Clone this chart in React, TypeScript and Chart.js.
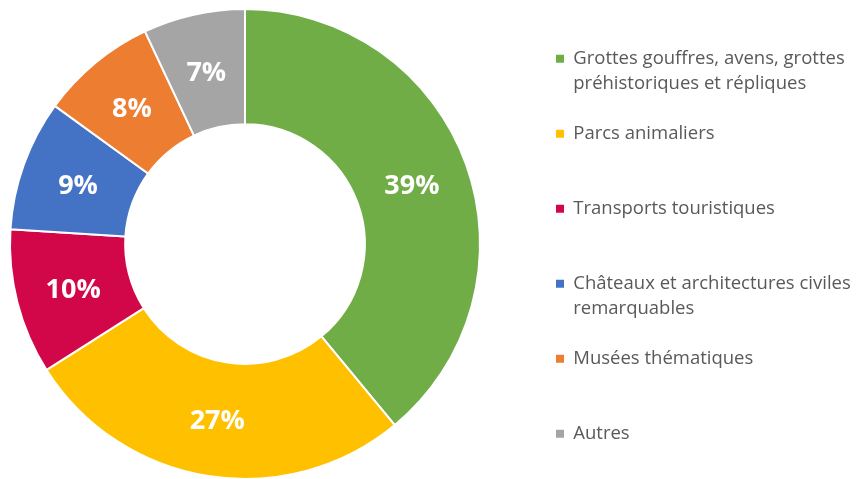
import React, { useEffect, useRef } from "react";
import { Chart, registerables } from "chart.js";

Chart.register(...registerables);

const CATEGORIES = [
  "Grottes gouffres, avens, grottes\npréhistoriques et répliques",
  "Parcs animaliers",
  "Transports touristiques",
  "Châteaux et architectures civiles\nremarquables",
  "Musées thématiques",
  "Autres",
];
const SHARES = [39, 27, 10, 9, 8, 7];
const COLORS = ["#70AD47", "#FFC000", "#D2074A", "#4472C4", "#ED7D31", "#A5A5A5"];

const PIE_AREA = { left: 9, top: 8, size: 472 };
const LEGEND_POS = { left: 531, top: 24.5 };
const LEGEND_LINES = 2;

const placementPlugin = {
  id: "placement",
  afterLayout(chart: any) {
    const a = chart.chartArea;
    a.left = PIE_AREA.left;
    a.top = PIE_AREA.top;
    a.right = PIE_AREA.left + PIE_AREA.size;
    a.bottom = PIE_AREA.top + PIE_AREA.size;
    a.width = PIE_AREA.size;
    a.height = PIE_AREA.size;
    const lg = chart.legend;
    if (lg) {
      const w = lg.right - lg.left;
      const h = lg.bottom - lg.top;
      lg.left = LEGEND_POS.left;
      lg.right = LEGEND_POS.left + w;
      lg.top = LEGEND_POS.top;
      lg.bottom = LEGEND_POS.top + h;
    }
  },
};

const valueLabelPlugin = {
  id: "valueLabels",
  afterDatasetsDraw(chart: any) {
    const ctx = chart.ctx;
    const meta = chart.getDatasetMeta(0);
    const data = chart.data.datasets[0].data;
    ctx.save();
    ctx.fillStyle = "#FFFFFF";
    ctx.font = "bold 27px 'Open Sans'";
    ctx.textAlign = "center";
    ctx.textBaseline = "middle";
    meta.data.forEach((arc: any, i: number) => {
      const p = arc.tooltipPosition(false);
      ctx.fillText(data[i] + "%", p.x, p.y + 2);
    });
    ctx.restore();
  },
};

export default function App() {
  const ref = useRef<HTMLCanvasElement>(null);
  useEffect(() => {
    if (!ref.current) return;
    const baseGen = (Chart as any).overrides.doughnut.plugins.legend.labels.generateLabels;
    const chart = new Chart(ref.current, {
      type: "doughnut",
      data: {
        labels: CATEGORIES,
        datasets: [
          {
            data: SHARES,
            backgroundColor: COLORS,
            borderColor: "#FFFFFF",
            borderWidth: 2,
          },
        ],
      },
      options: {
        animation: false,
        responsive: true,
        maintainAspectRatio: false,
        cutout: "51%",
        layout: { padding: 0 },
        plugins: {
          tooltip: { enabled: false },
          legend: {
            position: "right",
            align: "start",
            labels: {
              boxWidth: 8,
              boxHeight: 8,
              padding: 25,
              color: "#595959",
              font: { family: "'Open Sans'", size: 18.5, lineHeight: "25px" },
              generateLabels: (c: any) =>
                baseGen(c).map((item: any) => {
                  const lines = String(item.text).split("\n");
                  while (lines.length < LEGEND_LINES) lines.push("");
                  return { ...item, text: lines, lineWidth: 0, strokeStyle: item.fillStyle };
                }),
            },
          },
        },
      } as any,
      plugins: [placementPlugin, valueLabelPlugin],
    });
    return () => chart.destroy();
  }, []);
  return (
    <div style={{ position: "fixed", left: 0, top: 0, width: 859, height: 479, background: "#FFFFFF" }}>
      <canvas ref={ref} />
    </div>
  );
}
